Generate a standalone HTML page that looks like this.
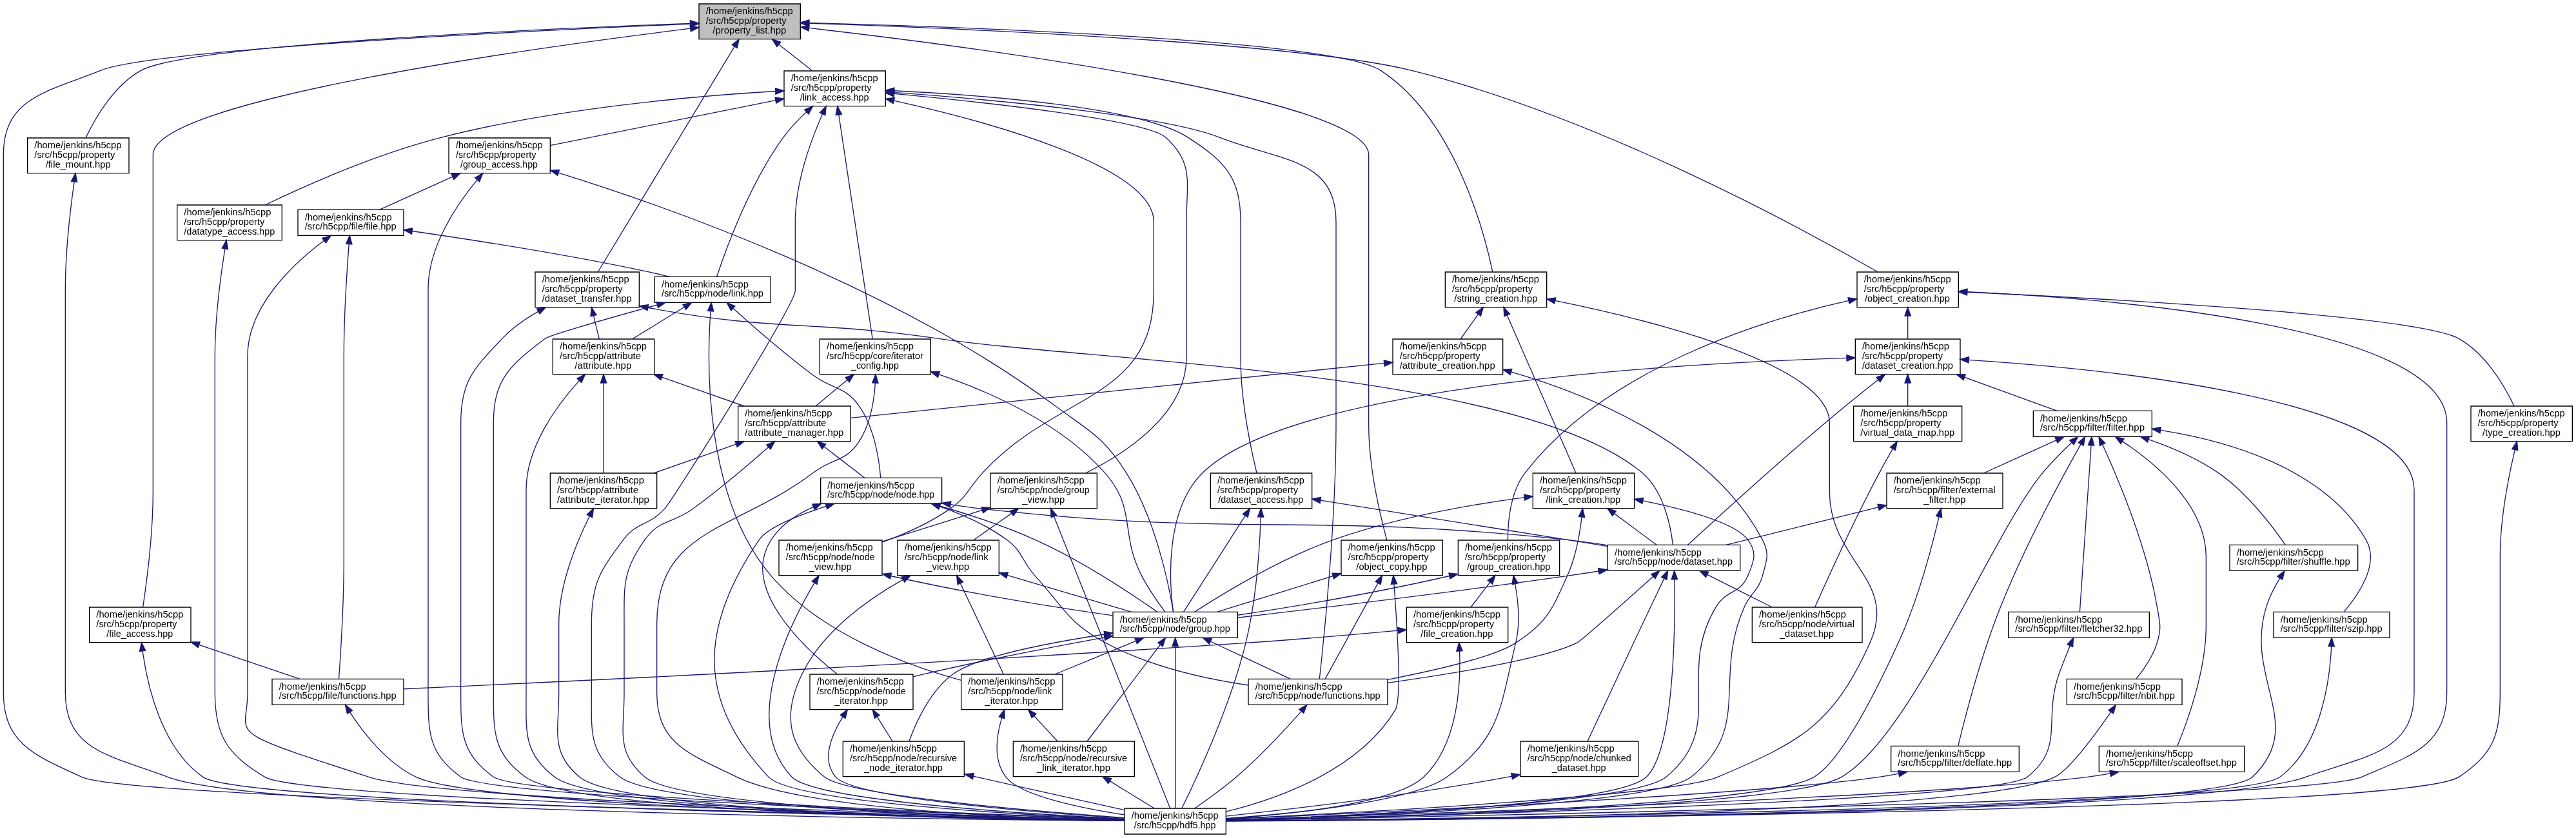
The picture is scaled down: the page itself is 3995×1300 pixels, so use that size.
<!DOCTYPE html>
<html><head><meta charset="utf-8"><title>property_list.hpp included-by graph</title>
<style>
html,body{margin:0;padding:0;background:#fff;}
body{width:3995px;height:1300px;overflow:hidden;font-family:"Liberation Sans",sans-serif;}
svg{display:block;will-change:transform;}
</style></head><body>
<svg width="3995" height="1300" viewBox="0 0 2996.25 975">
<rect x="0" y="0" width="2996.25" height="975" fill="#ffffff"/>
<g transform="translate(4 971)" font-family="Liberation Sans, sans-serif" font-size="10.4" fill="#000000">
<polygon fill="#bfbfbf" stroke="#000000" points="809,-925.5 809,-966.5 927,-966.5 927,-925.5 809,-925.5"/>
<text x="817" y="-954.3" textLength="101.25" lengthAdjust="spacingAndGlyphs">/home/jenkins/h5cpp</text>
<text x="817" y="-943.3" textLength="93.75" lengthAdjust="spacingAndGlyphs">/src/h5cpp/property</text>
<text x="825" y="-932.3" textLength="85.5" lengthAdjust="spacingAndGlyphs">/property_list.hpp</text>
<polygon fill="#ffffff" stroke="#000000" points="1304,-0.5 1304,-30.5 1422,-30.5 1422,-0.5 1304,-0.5"/>
<text x="1312" y="-18.3" textLength="101.25" lengthAdjust="spacingAndGlyphs">/home/jenkins/h5cpp</text>
<text x="1315" y="-7.3" textLength="95.25" lengthAdjust="spacingAndGlyphs">/src/h5cpp/hdf5.hpp</text>
<path fill="none" stroke="#191970" d="M799.01,-943.18C624.64,-935.71 175.65,-914.27 113,-889 51.35,-864.14 0,-857.48 0,-791 0,-791 0,-791 0,-165 0,-105.56 37,-91.83 91,-67 146.67,-41.4 1060.86,-21.5 1304,-16.64"/>
<polygon fill="#191970" stroke="#191970" points="799.16,-939.68 809,-943.61 798.86,-946.68 799.16,-939.68"/>
<polygon fill="#ffffff" stroke="#000000" points="618.5,-613.5 618.5,-654.5 739.5,-654.5 739.5,-613.5 618.5,-613.5"/>
<text x="626.5" y="-642.3" textLength="101.25" lengthAdjust="spacingAndGlyphs">/home/jenkins/h5cpp</text>
<text x="626.5" y="-631.3" textLength="93.75" lengthAdjust="spacingAndGlyphs">/src/h5cpp/property</text>
<text x="626.5" y="-620.3" textLength="104.25" lengthAdjust="spacingAndGlyphs">/dataset_transfer.hpp</text>
<path fill="none" stroke="#191970" d="M850.4,-916.95C812.53,-854.43 724.09,-708.44 691.42,-654.5"/>
<polygon fill="#191970" stroke="#191970" points="853.39,-915.13 855.58,-925.5 847.41,-918.76 853.39,-915.13"/>
<polygon fill="#ffffff" stroke="#000000" points="100,-223.5 100,-264.5 218,-264.5 218,-223.5 100,-223.5"/>
<text x="108" y="-252.3" textLength="101.25" lengthAdjust="spacingAndGlyphs">/home/jenkins/h5cpp</text>
<text x="108" y="-241.3" textLength="93.75" lengthAdjust="spacingAndGlyphs">/src/h5cpp/property</text>
<text x="120" y="-230.3" textLength="77.25" lengthAdjust="spacingAndGlyphs">/file_access.hpp</text>
<path fill="none" stroke="#191970" d="M799.07,-937.86C623.64,-916.23 174,-854.58 174,-791 174,-791 174,-791 174,-399 174,-350.87 166.65,-294.19 162.24,-264.5"/>
<polygon fill="#191970" stroke="#191970" points="799.5,-934.39 809,-939.08 798.65,-941.34 799.5,-934.39"/>
<polygon fill="#ffffff" stroke="#000000" points="28,-769.5 28,-810.5 146,-810.5 146,-769.5 28,-769.5"/>
<text x="36" y="-798.3" textLength="101.25" lengthAdjust="spacingAndGlyphs">/home/jenkins/h5cpp</text>
<text x="36" y="-787.3" textLength="93.75" lengthAdjust="spacingAndGlyphs">/src/h5cpp/property</text>
<text x="49" y="-776.3" textLength="75.75" lengthAdjust="spacingAndGlyphs">/file_mount.hpp</text>
<path fill="none" stroke="#191970" d="M799.01,-943.66C631.88,-937.55 215.03,-919.41 160,-889 128.6,-871.65 106.84,-834.05 95.68,-810.5"/>
<polygon fill="#191970" stroke="#191970" points="799.13,-940.17 809,-944.03 798.88,-947.16 799.13,-940.17"/>
<polygon fill="#ffffff" stroke="#000000" points="908,-847.5 908,-888.5 1026,-888.5 1026,-847.5 908,-847.5"/>
<text x="916" y="-876.3" textLength="101.25" lengthAdjust="spacingAndGlyphs">/home/jenkins/h5cpp</text>
<text x="916" y="-865.3" textLength="93.75" lengthAdjust="spacingAndGlyphs">/src/h5cpp/property</text>
<text x="926.5" y="-854.3" textLength="80.25" lengthAdjust="spacingAndGlyphs">/link_access.hpp</text>
<path fill="none" stroke="#191970" d="M901.87,-919.31C914.67,-909.23 929.02,-897.93 940.98,-888.5"/>
<polygon fill="#191970" stroke="#191970" points="904.04,-922.06 894.02,-925.5 899.71,-916.56 904.04,-922.06"/>
<polygon fill="#ffffff" stroke="#000000" points="1556,-301.5 1556,-342.5 1674,-342.5 1674,-301.5 1556,-301.5"/>
<text x="1564" y="-330.3" textLength="101.25" lengthAdjust="spacingAndGlyphs">/home/jenkins/h5cpp</text>
<text x="1564" y="-319.3" textLength="93.75" lengthAdjust="spacingAndGlyphs">/src/h5cpp/property</text>
<text x="1573.5" y="-308.3" textLength="82.5" lengthAdjust="spacingAndGlyphs">/object_copy.hpp</text>
<path fill="none" stroke="#191970" d="M936.94,-938.42C1117.07,-917.69 1588,-857.16 1588,-791 1588,-791 1588,-791 1588,-477 1588,-428.45 1601.18,-372.06 1609.13,-342.5"/>
<polygon fill="#191970" stroke="#191970" points="937.33,-941.9 927,-939.56 936.54,-934.94 937.33,-941.9"/>
<polygon fill="#ffffff" stroke="#000000" points="2156,-613.5 2156,-654.5 2274,-654.5 2274,-613.5 2156,-613.5"/>
<text x="2164" y="-642.3" textLength="101.25" lengthAdjust="spacingAndGlyphs">/home/jenkins/h5cpp</text>
<text x="2164" y="-631.3" textLength="93.75" lengthAdjust="spacingAndGlyphs">/src/h5cpp/property</text>
<text x="2165" y="-620.3" textLength="99" lengthAdjust="spacingAndGlyphs">/object_creation.hpp</text>
<path fill="none" stroke="#191970" d="M936.99,-943.88C1100.2,-938.39 1506.14,-921.78 1638,-889 1854.86,-835.1 2092.81,-704.98 2180.28,-654.5"/>
<polygon fill="#191970" stroke="#191970" points="937.11,-947.38 927,-944.21 936.88,-940.38 937.11,-947.38"/>
<polygon fill="#ffffff" stroke="#000000" points="1677,-613.5 1677,-654.5 1795,-654.5 1795,-613.5 1677,-613.5"/>
<text x="1685" y="-642.3" textLength="101.25" lengthAdjust="spacingAndGlyphs">/home/jenkins/h5cpp</text>
<text x="1685" y="-631.3" textLength="93.75" lengthAdjust="spacingAndGlyphs">/src/h5cpp/property</text>
<text x="1687.5" y="-620.3" textLength="96.75" lengthAdjust="spacingAndGlyphs">/string_creation.hpp</text>
<path fill="none" stroke="#191970" d="M937,-944.4C1109.05,-939.88 1547.21,-924.95 1602,-889 1686.97,-833.24 1721.58,-704.6 1732.16,-654.5"/>
<polygon fill="#191970" stroke="#191970" points="937.09,-947.9 927,-944.66 936.91,-940.9 937.09,-947.9"/>
<path fill="none" stroke="#191970" d="M622.12,-608.71C607.1,-600.15 591.81,-589.53 580,-577 546.74,-541.7 532,-527.5 532,-479 532,-479 532,-479 532,-165 532,-118.28 532.31,-94.61 570,-67 599.53,-45.37 1125.17,-24.21 1304,-17.6"/>
<polygon fill="#191970" stroke="#191970" points="623.79,-605.63 630.89,-613.5 620.44,-611.78 623.79,-605.63"/>
<polygon fill="#ffffff" stroke="#000000" points="639,-535.5 639,-576.5 757,-576.5 757,-535.5 639,-535.5"/>
<text x="647" y="-564.3" textLength="101.25" lengthAdjust="spacingAndGlyphs">/home/jenkins/h5cpp</text>
<text x="647" y="-553.3" textLength="94.5" lengthAdjust="spacingAndGlyphs">/src/h5cpp/attribute</text>
<text x="664.5" y="-542.3" textLength="66" lengthAdjust="spacingAndGlyphs">/attribute.hpp</text>
<path fill="none" stroke="#191970" d="M686.36,-603.78C688.58,-594.65 690.97,-584.84 693.01,-576.5"/>
<polygon fill="#191970" stroke="#191970" points="689.76,-604.61 683.99,-613.5 682.96,-602.96 689.76,-604.61"/>
<polygon fill="#ffffff" stroke="#000000" points="1866,-307 1866,-337 2020,-337 2020,-307 1866,-307"/>
<text x="1874" y="-324.8" textLength="101.25" lengthAdjust="spacingAndGlyphs">/home/jenkins/h5cpp</text>
<text x="1874" y="-313.8" textLength="137.25" lengthAdjust="spacingAndGlyphs">/src/h5cpp/node/dataset.hpp</text>
<path fill="none" stroke="#191970" d="M749.59,-613.08C899.51,-584.71 941.34,-598.73 1088,-577 1271.05,-549.87 1764.36,-540.09 1906,-421 1931.22,-399.79 1939.27,-359.03 1941.83,-337"/>
<polygon fill="#191970" stroke="#191970" points="750.25,-616.52 739.55,-615.01 748.93,-609.64 750.25,-616.52"/>
<path fill="none" stroke="#191970" d="M669.81,-528.18C643.41,-499.07 608,-450.74 608,-401 608,-401 608,-401 608,-165 608,-119.04 604.63,-95.1 641,-67 692.93,-26.87 1140.97,-17.94 1304,-16.01"/>
<polygon fill="#191970" stroke="#191970" points="672.37,-525.8 676.63,-535.5 667.25,-530.57 672.37,-525.8"/>
<polygon fill="#ffffff" stroke="#000000" points="636,-379.5 636,-420.5 760,-420.5 760,-379.5 636,-379.5"/>
<text x="644" y="-408.3" textLength="101.25" lengthAdjust="spacingAndGlyphs">/home/jenkins/h5cpp</text>
<text x="644" y="-397.3" textLength="94.5" lengthAdjust="spacingAndGlyphs">/src/h5cpp/attribute</text>
<text x="644" y="-386.3" textLength="107.25" lengthAdjust="spacingAndGlyphs">/attribute_iterator.hpp</text>
<path fill="none" stroke="#191970" d="M698,-525.5C698,-494.49 698,-447.31 698,-420.5"/>
<polygon fill="#191970" stroke="#191970" points="701.5,-525.5 698,-535.5 694.5,-525.5 701.5,-525.5"/>
<polygon fill="#ffffff" stroke="#000000" points="854.5,-457.5 854.5,-498.5 985.5,-498.5 985.5,-457.5 854.5,-457.5"/>
<text x="862.5" y="-486.3" textLength="101.25" lengthAdjust="spacingAndGlyphs">/home/jenkins/h5cpp</text>
<text x="862.5" y="-475.3" textLength="94.5" lengthAdjust="spacingAndGlyphs">/src/h5cpp/attribute</text>
<text x="862.5" y="-464.3" textLength="114.75" lengthAdjust="spacingAndGlyphs">/attribute_manager.hpp</text>
<path fill="none" stroke="#191970" d="M765.78,-532.19C796.41,-521.42 832.24,-508.83 861.65,-498.5"/>
<polygon fill="#191970" stroke="#191970" points="766.94,-535.49 756.35,-535.5 764.62,-528.88 766.94,-535.49"/>
<path fill="none" stroke="#191970" d="M681.85,-370.6C666.58,-340.05 646,-290.44 646,-245 646,-245 646,-245 646,-165 646,-120.16 635.75,-95.95 670,-67 717.9,-26.51 1145.28,-17.82 1304,-15.98"/>
<polygon fill="#191970" stroke="#191970" points="684.96,-369.01 686.41,-379.5 678.73,-372.2 684.96,-369.01"/>
<path fill="none" stroke="#191970" d="M889.91,-450.87C866.54,-430.26 832.99,-401.7 802,-379 778.13,-361.52 763.19,-367.08 746,-343 719.95,-306.5 722,-289.84 722,-245 722,-245 722,-245 722,-165 722,-120.16 711.88,-96.1 746,-67 787.88,-31.28 1157.87,-19.75 1304,-16.57"/>
<polygon fill="#191970" stroke="#191970" points="892.23,-448.25 897.39,-457.5 887.59,-453.49 892.23,-448.25"/>
<path fill="none" stroke="#191970" d="M852.22,-454.19C821.59,-443.42 785.76,-430.83 756.35,-420.5"/>
<polygon fill="#191970" stroke="#191970" points="853.38,-450.88 861.65,-457.5 851.06,-457.49 853.38,-450.88"/>
<polygon fill="#ffffff" stroke="#000000" points="950.5,-385 950.5,-415 1091.5,-415 1091.5,-385 950.5,-385"/>
<text x="958.5" y="-402.8" textLength="101.25" lengthAdjust="spacingAndGlyphs">/home/jenkins/h5cpp</text>
<text x="958.5" y="-391.8" textLength="124.5" lengthAdjust="spacingAndGlyphs">/src/h5cpp/node/node.hpp</text>
<path fill="none" stroke="#191970" d="M954.46,-451.39C970.19,-439.24 988.25,-425.29 1001.58,-415"/>
<polygon fill="#191970" stroke="#191970" points="956.6,-454.16 946.54,-457.5 952.32,-448.62 956.6,-454.16"/>
<path fill="none" stroke="#191970" d="M957.04,-381.98C923.96,-371.24 888.53,-357 879,-343 809.93,-241.51 805.62,-156.17 890,-67 917.99,-37.43 1183.48,-22.86 1304,-17.72"/>
<polygon fill="#191970" stroke="#191970" points="958.09,-378.64 966.57,-385 955.98,-385.31 958.09,-378.64"/>
<path fill="none" stroke="#191970" d="M1101.58,-384.08C1114.07,-382.13 1126.86,-380.35 1139,-379 1439.8,-345.66 1518.07,-375.14 1819,-343 1834.24,-341.37 1850.47,-339.05 1866,-336.55"/>
<polygon fill="#191970" stroke="#191970" points="1102.13,-387.54 1091.64,-385.67 1101.03,-380.62 1102.13,-387.54"/>
<polygon fill="#ffffff" stroke="#000000" points="1448,-151 1448,-181 1610,-181 1610,-151 1448,-151"/>
<text x="1456" y="-168.8" textLength="101.25" lengthAdjust="spacingAndGlyphs">/home/jenkins/h5cpp</text>
<text x="1456" y="-157.8" textLength="145.5" lengthAdjust="spacingAndGlyphs">/src/h5cpp/node/functions.hpp</text>
<path fill="none" stroke="#191970" d="M1088.76,-381.83C1114.82,-372.8 1143.84,-360.09 1167,-343 1186.1,-328.91 1184.02,-318.56 1200,-301 1233.85,-263.79 1237.66,-246.75 1282,-223 1333.41,-195.46 1397.84,-181.16 1448,-173.77"/>
<polygon fill="#191970" stroke="#191970" points="1089.87,-385.15 1079.27,-385 1087.65,-378.51 1089.87,-385.15"/>
<polygon fill="#ffffff" stroke="#000000" points="1290.5,-229 1290.5,-259 1435.5,-259 1435.5,-229 1290.5,-229"/>
<text x="1298.5" y="-246.8" textLength="101.25" lengthAdjust="spacingAndGlyphs">/home/jenkins/h5cpp</text>
<text x="1298.5" y="-235.8" textLength="128.25" lengthAdjust="spacingAndGlyphs">/src/h5cpp/node/group.hpp</text>
<path fill="none" stroke="#191970" d="M1089.15,-382.26C1123.17,-372.41 1164.53,-358.94 1200,-343 1253.84,-318.81 1311.95,-280.14 1342.13,-259"/>
<polygon fill="#191970" stroke="#191970" points="1090.11,-385.62 1079.53,-385 1088.19,-378.89 1090.11,-385.62"/>
<polygon fill="#ffffff" stroke="#000000" points="938,-145.5 938,-186.5 1058,-186.5 1058,-145.5 938,-145.5"/>
<text x="946" y="-174.3" textLength="101.25" lengthAdjust="spacingAndGlyphs">/home/jenkins/h5cpp</text>
<text x="946" y="-163.3" textLength="103.5" lengthAdjust="spacingAndGlyphs">/src/h5cpp/node/node</text>
<text x="966.5" y="-152.3" textLength="62.25" lengthAdjust="spacingAndGlyphs">_iterator.hpp</text>
<path fill="none" stroke="#191970" d="M942.13,-381.23C922.85,-372.77 904.48,-360.57 893,-343 856.95,-287.88 927.97,-219.9 970.04,-186.5"/>
<polygon fill="#191970" stroke="#191970" points="943.45,-377.99 951.39,-385 940.81,-384.48 943.45,-377.99"/>
<path fill="none" stroke="#191970" d="M1943.64,-297C1944.54,-239.07 1943.29,-98.22 1911,-67 1876.38,-33.52 1556.39,-20.83 1422,-16.95"/>
<polygon fill="#191970" stroke="#191970" points="1947.13,-297.07 1943.44,-307 1940.14,-296.93 1947.13,-297.07"/>
<polygon fill="#ffffff" stroke="#000000" points="1764.5,-67.5 1764.5,-108.5 1901.5,-108.5 1901.5,-67.5 1764.5,-67.5"/>
<text x="1772.5" y="-96.3" textLength="101.25" lengthAdjust="spacingAndGlyphs">/home/jenkins/h5cpp</text>
<text x="1772.5" y="-85.3" textLength="120.75" lengthAdjust="spacingAndGlyphs">/src/h5cpp/node/chunked</text>
<text x="1801" y="-74.3" textLength="63" lengthAdjust="spacingAndGlyphs">_dataset.hpp</text>
<path fill="none" stroke="#191970" d="M1931.65,-297.96C1926.8,-287.72 1921.1,-275.7 1916,-265 1889.16,-208.72 1857.87,-141.58 1842.51,-108.5"/>
<polygon fill="#191970" stroke="#191970" points="1934.81,-296.46 1935.92,-307 1928.48,-299.46 1934.81,-296.46"/>
<path fill="none" stroke="#191970" d="M1918.91,-300.32C1887.3,-271.95 1835.2,-225.52 1830,-223 1792.06,-204.61 1685.53,-187.12 1610,-176.48"/>
<polygon fill="#191970" stroke="#191970" points="1921.25,-297.71 1926.35,-307 1916.57,-302.92 1921.25,-297.71"/>
<path fill="none" stroke="#191970" d="M1855.46,-306.46C1843.23,-304.55 1830.81,-302.68 1819,-301 1683.82,-281.81 1525.55,-262.8 1435.5,-252.31"/>
<polygon fill="#191970" stroke="#191970" points="1856,-303 1865.68,-308.07 1854.92,-309.92 1856,-303"/>
<polygon fill="#ffffff" stroke="#000000" points="2034,-223.5 2034,-264.5 2162,-264.5 2162,-223.5 2034,-223.5"/>
<text x="2042" y="-252.3" textLength="101.25" lengthAdjust="spacingAndGlyphs">/home/jenkins/h5cpp</text>
<text x="2042" y="-241.3" textLength="111" lengthAdjust="spacingAndGlyphs">/src/h5cpp/node/virtual</text>
<text x="2066" y="-230.3" textLength="63" lengthAdjust="spacingAndGlyphs">_dataset.hpp</text>
<path fill="none" stroke="#191970" d="M1981.74,-302.5C2004.75,-290.92 2033.91,-276.25 2057.26,-264.5"/>
<polygon fill="#191970" stroke="#191970" points="1983.31,-305.63 1972.81,-307 1980.17,-299.38 1983.31,-305.63"/>
<path fill="none" stroke="#191970" d="M1754.41,-67.84C1752.93,-67.55 1751.46,-67.27 1750,-67 1634.58,-45.63 1498.15,-29.6 1422,-21.47"/>
<polygon fill="#191970" stroke="#191970" points="1755.11,-64.41 1764.28,-69.84 1753.71,-71.27 1755.11,-64.41"/>
<path fill="none" stroke="#191970" d="M1509.65,-143.48C1491.16,-122.55 1462.04,-91.08 1434,-67 1418.65,-53.82 1399.96,-40.36 1385.61,-30.5"/>
<polygon fill="#191970" stroke="#191970" points="1512.28,-141.17 1516.24,-151 1507.02,-145.78 1512.28,-141.17"/>
<path fill="none" stroke="#191970" d="M1363,-219C1363,-171.37 1363,-68.96 1363,-30.5"/>
<polygon fill="#191970" stroke="#191970" points="1366.5,-219 1363,-229 1359.5,-219 1366.5,-219"/>
<path fill="none" stroke="#191970" d="M1403.97,-224.75C1432.71,-211.24 1470.58,-193.45 1497.08,-181"/>
<polygon fill="#191970" stroke="#191970" points="1405.46,-227.92 1394.92,-229 1402.49,-221.58 1405.46,-227.92"/>
<polygon fill="#ffffff" stroke="#000000" points="1114,-145.5 1114,-186.5 1232,-186.5 1232,-145.5 1114,-145.5"/>
<text x="1122" y="-174.3" textLength="101.25" lengthAdjust="spacingAndGlyphs">/home/jenkins/h5cpp</text>
<text x="1122" y="-163.3" textLength="97.5" lengthAdjust="spacingAndGlyphs">/src/h5cpp/node/link</text>
<text x="1141.5" y="-152.3" textLength="62.25" lengthAdjust="spacingAndGlyphs">_iterator.hpp</text>
<path fill="none" stroke="#191970" d="M1317.21,-225.2C1288.75,-213.52 1252.14,-198.49 1222.94,-186.5"/>
<polygon fill="#191970" stroke="#191970" points="1318.54,-221.96 1326.46,-229 1315.88,-228.44 1318.54,-221.96"/>
<polygon fill="#ffffff" stroke="#000000" points="1174.5,-67.5 1174.5,-108.5 1315.5,-108.5 1315.5,-67.5 1174.5,-67.5"/>
<text x="1182.5" y="-96.3" textLength="101.25" lengthAdjust="spacingAndGlyphs">/home/jenkins/h5cpp</text>
<text x="1182.5" y="-85.3" textLength="124.5" lengthAdjust="spacingAndGlyphs">/src/h5cpp/node/recursive</text>
<text x="1202" y="-74.3" textLength="85.5" lengthAdjust="spacingAndGlyphs">_link_iterator.hpp</text>
<path fill="none" stroke="#191970" d="M1345.62,-221.02C1322.64,-190.65 1282.5,-137.58 1260.51,-108.5"/>
<polygon fill="#191970" stroke="#191970" points="1348.41,-218.91 1351.65,-229 1342.83,-223.14 1348.41,-218.91"/>
<path fill="none" stroke="#191970" d="M1280.66,-229.4C1222.2,-218.66 1141.98,-203.17 1072,-187 1067.46,-185.95 1062.78,-184.82 1058.08,-183.64"/>
<polygon fill="#191970" stroke="#191970" points="1281.29,-225.96 1290.5,-231.2 1280.03,-232.84 1281.29,-225.96"/>
<polygon fill="#ffffff" stroke="#000000" points="976.5,-67.5 976.5,-108.5 1117.5,-108.5 1117.5,-67.5 976.5,-67.5"/>
<text x="984.5" y="-96.3" textLength="101.25" lengthAdjust="spacingAndGlyphs">/home/jenkins/h5cpp</text>
<text x="984.5" y="-85.3" textLength="124.5" lengthAdjust="spacingAndGlyphs">/src/h5cpp/node/recursive</text>
<text x="1001" y="-74.3" textLength="91.5" lengthAdjust="spacingAndGlyphs">_node_iterator.hpp</text>
<path fill="none" stroke="#191970" d="M1280.61,-233.02C1216.1,-223.12 1132.78,-207.05 1105,-187 1078.2,-167.66 1061.67,-131.36 1053.42,-108.5"/>
<polygon fill="#191970" stroke="#191970" points="1281.13,-229.56 1290.5,-234.51 1280.09,-236.48 1281.13,-229.56"/>
<path fill="none" stroke="#191970" d="M1161.24,-135.99C1154.93,-114.52 1151.14,-86.14 1166,-67 1182.88,-45.24 1252.31,-30.88 1304,-22.98"/>
<polygon fill="#191970" stroke="#191970" points="1164.57,-134.91 1164.33,-145.5 1157.91,-137.07 1164.57,-134.91"/>
<path fill="none" stroke="#191970" d="M1198.71,-138.15C1207.73,-128.37 1217.71,-117.57 1226.08,-108.5"/>
<polygon fill="#191970" stroke="#191970" points="1201.28,-140.53 1191.92,-145.5 1196.13,-135.78 1201.28,-140.53"/>
<path fill="none" stroke="#191970" d="M1286.89,-62.27C1304.2,-51.63 1323.67,-39.66 1338.59,-30.5"/>
<polygon fill="#191970" stroke="#191970" points="1288.72,-65.25 1278.37,-67.5 1285.05,-59.28 1288.72,-65.25"/>
<path fill="none" stroke="#191970" d="M976.31,-137.15C962.81,-115.49 950.97,-86.35 968,-67 989.83,-42.2 1199.28,-25.72 1304,-18.97"/>
<polygon fill="#191970" stroke="#191970" points="979.23,-135.23 981.81,-145.5 973.39,-139.08 979.23,-135.23"/>
<path fill="none" stroke="#191970" d="M1016.2,-137.03C1022.15,-127.55 1028.64,-117.22 1034.12,-108.5"/>
<polygon fill="#191970" stroke="#191970" points="1019.16,-138.89 1010.88,-145.5 1013.23,-135.17 1019.16,-138.89"/>
<path fill="none" stroke="#191970" d="M1128.1,-67.89C1129.41,-67.59 1130.71,-67.29 1132,-67 1190.41,-53.74 1257.29,-38.87 1304,-28.52"/>
<polygon fill="#191970" stroke="#191970" points="1128.88,-71.3 1117.94,-70.22 1127.32,-64.48 1128.88,-71.3"/>
<path fill="none" stroke="#191970" d="M161.85,-213.58C167.47,-172.51 184,-100.63 232,-67 276.21,-36.02 1077.78,-20.28 1304,-16.44"/>
<polygon fill="#191970" stroke="#191970" points="165.32,-214.01 160.62,-223.5 158.37,-213.15 165.32,-214.01"/>
<polygon fill="#ffffff" stroke="#000000" points="312.5,-151 312.5,-181 465.5,-181 465.5,-151 312.5,-151"/>
<text x="320.5" y="-168.8" textLength="101.25" lengthAdjust="spacingAndGlyphs">/home/jenkins/h5cpp</text>
<text x="320.5" y="-157.8" textLength="136.5" lengthAdjust="spacingAndGlyphs">/src/h5cpp/file/functions.hpp</text>
<path fill="none" stroke="#191970" d="M227.47,-220.78C265.44,-207.9 311.55,-192.27 344.77,-181"/>
<polygon fill="#191970" stroke="#191970" points="228.59,-224.09 218,-223.99 226.35,-217.47 228.59,-224.09"/>
<path fill="none" stroke="#191970" d="M402.84,-142.54C418.34,-118.7 445.84,-83.07 480,-67 554.14,-32.12 1118.37,-19.6 1304,-16.41"/>
<polygon fill="#191970" stroke="#191970" points="405.8,-144.4 397.51,-151 399.88,-140.67 405.8,-144.4"/>
<path fill="none" stroke="#191970" d="M82.33,-759.6C77.92,-728.33 72,-678.21 72,-635 72,-635 72,-635 72,-165 72,-96.48 127.02,-91.52 191,-67 295.25,-27.05 1080.77,-17.75 1304,-15.91"/>
<polygon fill="#191970" stroke="#191970" points="85.79,-759.1 83.76,-769.5 78.86,-760.1 85.79,-759.1"/>
<path fill="none" stroke="#191970" d="M952.71,-838.39C939.2,-807.67 921,-757.94 921,-713 921,-713 921,-713 921,-633 921,-616.56 780.01,-391.22 769,-379 751.15,-359.19 737.01,-364.32 721,-343 693.04,-305.77 684,-291.56 684,-245 684,-245 684,-245 684,-165 684,-119.04 680.75,-95.25 717,-67 762.71,-31.38 1153.28,-19.74 1304,-16.55"/>
<polygon fill="#191970" stroke="#191970" points="955.9,-836.95 956.82,-847.5 949.52,-839.83 955.9,-836.95"/>
<path fill="none" stroke="#191970" d="M1035.97,-863.41C1143.97,-855.51 1347.62,-837.61 1415,-811 1483.96,-783.77 1550,-787.14 1550,-713 1550,-713 1550,-713 1550,-477 1550,-363.27 1535.76,-225.92 1530.73,-181"/>
<polygon fill="#191970" stroke="#191970" points="1036.23,-866.9 1026,-864.13 1035.72,-859.91 1036.23,-866.9"/>
<polygon fill="#ffffff" stroke="#000000" points="949.5,-535.5 949.5,-576.5 1078.5,-576.5 1078.5,-535.5 949.5,-535.5"/>
<text x="957.5" y="-564.3" textLength="101.25" lengthAdjust="spacingAndGlyphs">/home/jenkins/h5cpp</text>
<text x="957.5" y="-553.3" textLength="112.5" lengthAdjust="spacingAndGlyphs">/src/h5cpp/core/iterator</text>
<text x="986" y="-542.3" textLength="55.5" lengthAdjust="spacingAndGlyphs">_config.hpp</text>
<path fill="none" stroke="#191970" d="M971.58,-837.61C981.1,-774.37 1002.84,-630.05 1010.91,-576.5"/>
<polygon fill="#191970" stroke="#191970" points="975.04,-838.13 970.09,-847.5 968.12,-837.09 975.04,-838.13"/>
<polygon fill="#ffffff" stroke="#000000" points="1148,-379.5 1148,-420.5 1272,-420.5 1272,-379.5 1148,-379.5"/>
<text x="1156" y="-408.3" textLength="101.25" lengthAdjust="spacingAndGlyphs">/home/jenkins/h5cpp</text>
<text x="1156" y="-397.3" textLength="107.25" lengthAdjust="spacingAndGlyphs">/src/h5cpp/node/group</text>
<text x="1185" y="-386.3" textLength="49.5" lengthAdjust="spacingAndGlyphs">_view.hpp</text>
<path fill="none" stroke="#191970" d="M1035.96,-861.95C1140.39,-852.18 1329.02,-831.88 1352,-811 1385.19,-780.84 1376,-757.84 1376,-713 1376,-713 1376,-713 1376,-555 1376,-490.36 1307.53,-444.81 1258.53,-420.5"/>
<polygon fill="#191970" stroke="#191970" points="1036.28,-865.44 1026,-862.87 1035.63,-858.47 1036.28,-865.44"/>
<polygon fill="#ffffff" stroke="#000000" points="902,-301.5 902,-342.5 1022,-342.5 1022,-301.5 902,-301.5"/>
<text x="910" y="-330.3" textLength="101.25" lengthAdjust="spacingAndGlyphs">/home/jenkins/h5cpp</text>
<text x="910" y="-319.3" textLength="103.5" lengthAdjust="spacingAndGlyphs">/src/h5cpp/node/node</text>
<text x="937" y="-308.3" textLength="49.5" lengthAdjust="spacingAndGlyphs">_view.hpp</text>
<path fill="none" stroke="#191970" d="M1035.77,-853.96C1143.03,-830.06 1338,-777.71 1338,-713 1338,-713 1338,-713 1338,-633 1338,-503.77 1226.58,-516.03 1139,-421 1121.94,-402.49 1121.64,-393.4 1101,-379 1077.18,-362.38 1047.68,-349.41 1022,-340.07"/>
<polygon fill="#191970" stroke="#191970" points="1036.52,-857.38 1026,-856.11 1035.01,-850.54 1036.52,-857.38"/>
<polygon fill="#ffffff" stroke="#000000" points="757.5,-619 757.5,-649 892.5,-649 892.5,-619 757.5,-619"/>
<text x="765.5" y="-636.8" textLength="101.25" lengthAdjust="spacingAndGlyphs">/home/jenkins/h5cpp</text>
<text x="765.5" y="-625.8" textLength="118.5" lengthAdjust="spacingAndGlyphs">/src/h5cpp/node/link.hpp</text>
<path fill="none" stroke="#191970" d="M934.09,-840.79C924.56,-831.9 914.68,-821.57 907,-811 867.86,-757.09 840.28,-680.93 829.74,-649"/>
<polygon fill="#191970" stroke="#191970" points="936.44,-838.19 941.51,-847.5 931.74,-843.38 936.44,-838.19"/>
<polygon fill="#ffffff" stroke="#000000" points="1404,-379.5 1404,-420.5 1522,-420.5 1522,-379.5 1404,-379.5"/>
<text x="1412" y="-408.3" textLength="101.25" lengthAdjust="spacingAndGlyphs">/home/jenkins/h5cpp</text>
<text x="1412" y="-397.3" textLength="93.75" lengthAdjust="spacingAndGlyphs">/src/h5cpp/property</text>
<text x="1413" y="-386.3" textLength="99" lengthAdjust="spacingAndGlyphs">/dataset_access.hpp</text>
<path fill="none" stroke="#191970" d="M1035.99,-865.41C1137.99,-860.44 1322.93,-846.67 1378,-811 1421.06,-783.11 1439,-764.3 1439,-713 1439,-713 1439,-713 1439,-555 1439,-506.56 1450.73,-450.1 1457.79,-420.5"/>
<polygon fill="#191970" stroke="#191970" points="1036.15,-868.91 1026,-865.89 1035.82,-861.92 1036.15,-868.91"/>
<polygon fill="#ffffff" stroke="#000000" points="202,-691.5 202,-732.5 324,-732.5 324,-691.5 202,-691.5"/>
<text x="210" y="-720.3" textLength="101.25" lengthAdjust="spacingAndGlyphs">/home/jenkins/h5cpp</text>
<text x="210" y="-709.3" textLength="93.75" lengthAdjust="spacingAndGlyphs">/src/h5cpp/property</text>
<text x="210" y="-698.3" textLength="105.75" lengthAdjust="spacingAndGlyphs">/datatype_access.hpp</text>
<path fill="none" stroke="#191970" d="M898.02,-864.85C807.48,-859.49 644.2,-845.57 509,-811 434.43,-791.93 352.17,-755.45 304.18,-732.5"/>
<polygon fill="#191970" stroke="#191970" points="898.22,-861.36 908,-865.42 897.82,-868.34 898.22,-861.36"/>
<polygon fill="#ffffff" stroke="#000000" points="518,-769.5 518,-810.5 636,-810.5 636,-769.5 518,-769.5"/>
<text x="526" y="-798.3" textLength="101.25" lengthAdjust="spacingAndGlyphs">/home/jenkins/h5cpp</text>
<text x="526" y="-787.3" textLength="93.75" lengthAdjust="spacingAndGlyphs">/src/h5cpp/property</text>
<text x="531.5" y="-776.3" textLength="90" lengthAdjust="spacingAndGlyphs">/group_access.hpp</text>
<path fill="none" stroke="#191970" d="M898.19,-854.24C823.77,-839.35 706.36,-815.87 636,-801.8"/>
<polygon fill="#191970" stroke="#191970" points="898.88,-850.81 908,-856.2 897.51,-857.67 898.88,-850.81"/>
<path fill="none" stroke="#191970" d="M1014.04,-525.51C1012.73,-504.61 1008.27,-477.14 995,-457 979.33,-433.23 964.67,-438.23 942,-421 852.42,-352.91 760,-357.52 760,-245 760,-245 760,-245 760,-165 760,-104.95 799.07,-93.4 853,-67 931.1,-28.78 1187.21,-18.9 1304,-16.37"/>
<polygon fill="#191970" stroke="#191970" points="1017.53,-525.36 1014.46,-535.5 1010.54,-525.66 1017.53,-525.36"/>
<path fill="none" stroke="#191970" d="M981.6,-529.11C969.51,-519.08 955.99,-507.87 944.71,-498.5"/>
<polygon fill="#191970" stroke="#191970" points="983.83,-526.42 989.29,-535.5 979.36,-531.81 983.83,-526.42"/>
<path fill="none" stroke="#191970" d="M1087.99,-535.31C1147.63,-515.13 1229.73,-478.88 1281,-421 1318.56,-378.59 1298.03,-351.35 1324,-301 1331.69,-286.08 1342.83,-270.2 1351.24,-259"/>
<polygon fill="#191970" stroke="#191970" points="1089.09,-538.64 1078.5,-538.46 1086.89,-531.99 1089.09,-538.64"/>
<path fill="none" stroke="#191970" d="M1221.85,-370.21C1252.63,-292.86 1334.27,-87.71 1357.03,-30.5"/>
<polygon fill="#191970" stroke="#191970" points="1225.11,-371.5 1218.16,-379.5 1218.6,-368.91 1225.11,-371.5"/>
<polygon fill="#ffffff" stroke="#000000" points="1040,-301.5 1040,-342.5 1158,-342.5 1158,-301.5 1040,-301.5"/>
<text x="1048" y="-330.3" textLength="101.25" lengthAdjust="spacingAndGlyphs">/home/jenkins/h5cpp</text>
<text x="1048" y="-319.3" textLength="97.5" lengthAdjust="spacingAndGlyphs">/src/h5cpp/node/link</text>
<text x="1074" y="-308.3" textLength="49.5" lengthAdjust="spacingAndGlyphs">_view.hpp</text>
<path fill="none" stroke="#191970" d="M1172.65,-373.75C1158.14,-363.56 1141.78,-352.06 1128.17,-342.5"/>
<polygon fill="#191970" stroke="#191970" points="1174.66,-370.89 1180.83,-379.5 1170.63,-376.61 1174.66,-370.89"/>
<path fill="none" stroke="#191970" d="M1138.46,-377.5C1101.57,-365.9 1057.08,-351.9 1022,-340.87"/>
<polygon fill="#191970" stroke="#191970" points="1139.51,-374.16 1148,-380.5 1137.41,-380.84 1139.51,-374.16"/>
<path fill="none" stroke="#191970" d="M1046.36,-296.71C1005.98,-274.12 953.2,-236.89 929,-187 905.18,-137.9 912.78,-101.57 955,-67 981.49,-45.31 1197.46,-27.2 1304,-19.49"/>
<polygon fill="#191970" stroke="#191970" points="1048.04,-293.64 1055.14,-301.5 1044.68,-299.78 1048.04,-293.64"/>
<path fill="none" stroke="#191970" d="M1167.59,-301.73C1212.84,-288.37 1271.13,-271.14 1312.23,-259"/>
<polygon fill="#191970" stroke="#191970" points="1168.58,-305.09 1158,-304.57 1166.6,-298.38 1168.58,-305.09"/>
<path fill="none" stroke="#191970" d="M1113.01,-292.46C1127.71,-261.48 1150.43,-213.59 1163.28,-186.5"/>
<polygon fill="#191970" stroke="#191970" points="1116.17,-293.97 1108.72,-301.5 1109.85,-290.96 1116.17,-293.97"/>
<path fill="none" stroke="#191970" d="M943.33,-292.95C912.05,-240.32 858.03,-128.91 917,-67 943.23,-39.46 1188.88,-23.97 1304,-18.17"/>
<polygon fill="#191970" stroke="#191970" points="946.32,-291.14 948.52,-301.5 940.33,-294.77 946.32,-291.14"/>
<path fill="none" stroke="#191970" d="M1032.11,-300.87C1126.49,-279.68 1225.05,-264.16 1290.32,-254.8"/>
<polygon fill="#191970" stroke="#191970" points="1032.88,-304.28 1022.1,-303.14 1031.34,-297.46 1032.88,-304.28"/>
<path fill="none" stroke="#191970" d="M760.5,-616.33C705.83,-601.17 635.43,-581.13 630,-577 589.36,-546.07 570,-530.07 570,-479 570,-479 570,-479 570,-165 570,-118.44 569.61,-94.74 607,-67 662.47,-25.85 1135.81,-17.56 1304,-15.91"/>
<polygon fill="#191970" stroke="#191970" points="761.44,-612.96 770.14,-619 759.57,-619.71 761.44,-612.96"/>
<path fill="none" stroke="#191970" d="M792.06,-613.77C773.39,-602.31 750.11,-588 731.38,-576.5"/>
<polygon fill="#191970" stroke="#191970" points="793.89,-610.78 800.58,-619 790.22,-616.75 793.89,-610.78"/>
<path fill="none" stroke="#191970" d="M848.68,-612.29C871.68,-591.57 907.87,-559.91 941,-535 964.05,-517.66 978.22,-522.46 995,-499 1013.19,-473.58 1018.65,-435.76 1020.3,-415"/>
<polygon fill="#191970" stroke="#191970" points="851.03,-614.88 841.27,-619 846.33,-609.69 851.03,-614.88"/>
<path fill="none" stroke="#191970" d="M822.56,-609.03C818.07,-548.42 815.16,-391.82 893,-301 950.88,-233.46 1050.51,-196.89 1114,-179.44"/>
<polygon fill="#191970" stroke="#191970" points="826.05,-608.75 823.39,-619 819.08,-609.32 826.05,-608.75"/>
<path fill="none" stroke="#191970" d="M1462.43,-369.5C1461.19,-333.81 1457.28,-273.18 1445,-223 1426.72,-148.3 1387.18,-64.09 1370.58,-30.5"/>
<polygon fill="#191970" stroke="#191970" points="1465.93,-369.4 1462.73,-379.5 1458.93,-369.61 1465.93,-369.4"/>
<path fill="none" stroke="#191970" d="M1531.87,-388.94C1603.6,-377.43 1719.2,-358.89 1819,-343 1834.17,-340.58 1850.42,-337.9 1866,-335.28"/>
<polygon fill="#191970" stroke="#191970" points="1532.43,-392.39 1522,-390.52 1531.32,-385.48 1532.43,-392.39"/>
<path fill="none" stroke="#191970" d="M1444.46,-371.08C1423.2,-337.91 1389.14,-284.78 1372.62,-259"/>
<polygon fill="#191970" stroke="#191970" points="1447.41,-369.19 1449.86,-379.5 1441.52,-372.97 1447.41,-369.19"/>
<path fill="none" stroke="#191970" d="M257.7,-681.63C252.71,-650.38 246,-600.28 246,-557 246,-557 246,-557 246,-165 246,-114.39 260.64,-93.11 304,-67 347.05,-41.08 1087.5,-21.9 1304,-16.83"/>
<polygon fill="#191970" stroke="#191970" points="261.16,-681.07 259.32,-691.5 254.25,-682.2 261.16,-681.07"/>
<path fill="none" stroke="#191970" d="M551.09,-761.88C526.73,-732.46 494,-683.83 494,-635 494,-635 494,-635 494,-165 494,-118.28 494.27,-94.55 532,-67 563.13,-44.27 1119.38,-23.66 1304,-17.42"/>
<polygon fill="#191970" stroke="#191970" points="553.75,-759.61 557.56,-769.5 548.42,-764.15 553.75,-759.61"/>
<path fill="none" stroke="#191970" d="M645.56,-769.96C769.44,-731.5 1035.16,-638.6 1223,-499 1263.63,-468.8 1278.9,-463.76 1306,-421 1339.99,-367.35 1355.48,-290.99 1360.77,-259"/>
<polygon fill="#191970" stroke="#191970" points="646.59,-773.3 636,-772.9 644.53,-766.61 646.59,-773.3"/>
<polygon fill="#ffffff" stroke="#000000" points="342.5,-697 342.5,-727 465.5,-727 465.5,-697 342.5,-697"/>
<text x="350.5" y="-714.8" textLength="101.25" lengthAdjust="spacingAndGlyphs">/home/jenkins/h5cpp</text>
<text x="350.5" y="-703.8" textLength="106.5" lengthAdjust="spacingAndGlyphs">/src/h5cpp/file/file.hpp</text>
<path fill="none" stroke="#191970" d="M522.42,-765.39C494.47,-752.79 461.36,-737.86 437.27,-727"/>
<polygon fill="#191970" stroke="#191970" points="523.85,-762.2 531.53,-769.5 520.98,-768.58 523.85,-762.2"/>
<path fill="none" stroke="#191970" d="M372.9,-691.11C337.34,-664.47 284,-614.86 284,-557 284,-557 284,-557 284,-165 284,-112.33 250.23,-123.6 425,-67 508.26,-40.04 1111.34,-22.08 1304,-16.99"/>
<polygon fill="#191970" stroke="#191970" points="374.96,-688.28 380.98,-697 370.84,-693.94 374.96,-688.28"/>
<path fill="none" stroke="#191970" d="M401.92,-687.03C399.55,-656.33 396,-602.68 396,-557 396,-557 396,-557 396,-321 396,-269.87 392.1,-208.73 390.12,-181"/>
<polygon fill="#191970" stroke="#191970" points="405.41,-686.75 402.72,-697 398.44,-687.31 405.41,-686.75"/>
<path fill="none" stroke="#191970" d="M475.4,-702.13C545.43,-692.01 655.06,-674.94 749,-655 757.27,-653.24 766,-651.17 774.47,-649.02"/>
<polygon fill="#191970" stroke="#191970" points="475.9,-705.6 465.5,-703.56 474.9,-698.67 475.9,-705.6"/>
<path fill="none" stroke="#191970" d="M1617.44,-291.53C1620.98,-244.18 1626.34,-157.09 1619,-145 1576.68,-75.28 1483.49,-41.74 1422,-26.64"/>
<polygon fill="#191970" stroke="#191970" points="1620.93,-291.8 1616.68,-301.5 1613.95,-291.26 1620.93,-291.8"/>
<path fill="none" stroke="#191970" d="M1598.87,-292.74C1580.57,-259.55 1551.43,-206.69 1537.27,-181"/>
<polygon fill="#191970" stroke="#191970" points="1601.94,-291.05 1603.7,-301.5 1595.81,-294.43 1601.94,-291.05"/>
<path fill="none" stroke="#191970" d="M1546.45,-300.78C1503.72,-287.55 1449.77,-270.86 1411.46,-259"/>
<polygon fill="#191970" stroke="#191970" points="1547.48,-297.44 1556,-303.74 1545.41,-304.12 1547.48,-297.44"/>
<path fill="none" stroke="#191970" d="M2283.99,-631.47C2446.93,-623.64 2842,-592.89 2842,-479 2842,-479 2842,-479 2842,-165 2842,-103.09 2799.82,-91.59 2743,-67 2681.6,-40.43 1677.89,-21.04 1422,-16.51"/>
<polygon fill="#191970" stroke="#191970" points="2284.15,-634.97 2274,-631.94 2283.83,-627.98 2284.15,-634.97"/>
<polygon fill="#ffffff" stroke="#000000" points="2154,-535.5 2154,-576.5 2276,-576.5 2276,-535.5 2154,-535.5"/>
<text x="2162" y="-564.3" textLength="101.25" lengthAdjust="spacingAndGlyphs">/home/jenkins/h5cpp</text>
<text x="2162" y="-553.3" textLength="93.75" lengthAdjust="spacingAndGlyphs">/src/h5cpp/property</text>
<text x="2162" y="-542.3" textLength="105.75" lengthAdjust="spacingAndGlyphs">/dataset_creation.hpp</text>
<path fill="none" stroke="#191970" d="M2215,-603.5C2215,-594.45 2215,-584.75 2215,-576.5"/>
<polygon fill="#191970" stroke="#191970" points="2218.5,-603.5 2215,-613.5 2211.5,-603.5 2218.5,-603.5"/>
<polygon fill="#ffffff" stroke="#000000" points="1692,-301.5 1692,-342.5 1810,-342.5 1810,-301.5 1692,-301.5"/>
<text x="1700" y="-330.3" textLength="101.25" lengthAdjust="spacingAndGlyphs">/home/jenkins/h5cpp</text>
<text x="1700" y="-319.3" textLength="93.75" lengthAdjust="spacingAndGlyphs">/src/h5cpp/property</text>
<text x="1702.5" y="-308.3" textLength="96.75" lengthAdjust="spacingAndGlyphs">/group_creation.hpp</text>
<path fill="none" stroke="#191970" d="M2146.23,-621.18C2046.81,-598.87 1864.52,-543.07 1770,-421 1752.61,-398.54 1749.7,-364.26 1749.86,-342.5"/>
<polygon fill="#191970" stroke="#191970" points="2146.98,-617.76 2156,-623.33 2145.48,-624.6 2146.98,-617.76"/>
<polygon fill="#ffffff" stroke="#000000" points="2870,-457.5 2870,-498.5 2988,-498.5 2988,-457.5 2870,-457.5"/>
<text x="2878" y="-486.3" textLength="101.25" lengthAdjust="spacingAndGlyphs">/home/jenkins/h5cpp</text>
<text x="2878" y="-475.3" textLength="93.75" lengthAdjust="spacingAndGlyphs">/src/h5cpp/property</text>
<text x="2883.5" y="-464.3" textLength="90.75" lengthAdjust="spacingAndGlyphs">/type_creation.hpp</text>
<path fill="none" stroke="#191970" d="M2283.99,-631.04C2439.35,-623.91 2806.95,-604.36 2856,-577 2887.31,-559.54 2909.09,-522.01 2920.28,-498.5"/>
<polygon fill="#191970" stroke="#191970" points="2284.15,-634.53 2274,-631.49 2283.83,-627.54 2284.15,-634.53"/>
<path fill="none" stroke="#191970" d="M2285.98,-552.25C2442.6,-542.03 2804,-506.97 2804,-401 2804,-401 2804,-401 2804,-165 2804,-94.06 2744.65,-91.31 2678,-67 2559.19,-23.67 1662.18,-16.77 1422,-15.69"/>
<polygon fill="#191970" stroke="#191970" points="2286.2,-555.74 2276,-552.88 2285.76,-548.75 2286.2,-555.74"/>
<path fill="none" stroke="#191970" d="M2180.68,-529.32C2168.63,-519.82 2155.08,-509 2143,-499 2073.1,-441.15 1992.88,-368.02 1959.21,-337"/>
<polygon fill="#191970" stroke="#191970" points="2182.85,-526.57 2188.55,-535.5 2178.52,-532.08 2182.85,-526.57"/>
<path fill="none" stroke="#191970" d="M2144,-554.43C1964.76,-548.95 1500.7,-524.83 1395,-421 1350.5,-377.28 1356.13,-293.18 1360.62,-259"/>
<polygon fill="#191970" stroke="#191970" points="2144.11,-550.93 2154,-554.73 2143.9,-557.93 2144.11,-550.93"/>
<polygon fill="#ffffff" stroke="#000000" points="2361,-463 2361,-493 2499,-493 2499,-463 2361,-463"/>
<text x="2369" y="-480.8" textLength="101.25" lengthAdjust="spacingAndGlyphs">/home/jenkins/h5cpp</text>
<text x="2369" y="-469.8" textLength="121.5" lengthAdjust="spacingAndGlyphs">/src/h5cpp/filter/filter.hpp</text>
<path fill="none" stroke="#191970" d="M2280.91,-532.09C2316.03,-519.35 2358.15,-504.07 2388.65,-493"/>
<polygon fill="#191970" stroke="#191970" points="2282.1,-535.38 2271.51,-535.5 2279.71,-528.8 2282.1,-535.38"/>
<polygon fill="#ffffff" stroke="#000000" points="2152,-457.5 2152,-498.5 2278,-498.5 2278,-457.5 2152,-457.5"/>
<text x="2160" y="-486.3" textLength="101.25" lengthAdjust="spacingAndGlyphs">/home/jenkins/h5cpp</text>
<text x="2160" y="-475.3" textLength="93.75" lengthAdjust="spacingAndGlyphs">/src/h5cpp/property</text>
<text x="2160" y="-464.3" textLength="109.5" lengthAdjust="spacingAndGlyphs">/virtual_data_map.hpp</text>
<path fill="none" stroke="#191970" d="M2215,-525.5C2215,-516.45 2215,-506.75 2215,-498.5"/>
<polygon fill="#191970" stroke="#191970" points="2218.5,-525.5 2215,-535.5 2211.5,-525.5 2218.5,-525.5"/>
<path fill="none" stroke="#191970" d="M2405.69,-456.19C2394.83,-445.94 2382.2,-433.28 2372,-421 2311.76,-348.45 2219.65,-114.18 2138,-67 2076.57,-31.5 1592.32,-19.56 1422,-16.44"/>
<polygon fill="#191970" stroke="#191970" points="2408.07,-453.63 2413.02,-463 2403.31,-458.76 2408.07,-453.63"/>
<polygon fill="#ffffff" stroke="#000000" points="2195.5,-73 2195.5,-103 2344.5,-103 2344.5,-73 2195.5,-73"/>
<text x="2203.5" y="-90.8" textLength="101.25" lengthAdjust="spacingAndGlyphs">/home/jenkins/h5cpp</text>
<text x="2203.5" y="-79.8" textLength="132.75" lengthAdjust="spacingAndGlyphs">/src/h5cpp/filter/deflate.hpp</text>
<path fill="none" stroke="#191970" d="M2416.41,-454.3C2394.58,-415.55 2351.29,-335.84 2323,-265 2299.79,-206.89 2281.04,-133.96 2273.54,-103"/>
<polygon fill="#191970" stroke="#191970" points="2419.46,-452.57 2421.34,-463 2413.37,-456.02 2419.46,-452.57"/>
<polygon fill="#ffffff" stroke="#000000" points="2190.5,-379.5 2190.5,-420.5 2325.5,-420.5 2325.5,-379.5 2190.5,-379.5"/>
<text x="2198.5" y="-408.3" textLength="101.25" lengthAdjust="spacingAndGlyphs">/home/jenkins/h5cpp</text>
<text x="2198.5" y="-397.3" textLength="118.5" lengthAdjust="spacingAndGlyphs">/src/h5cpp/filter/external</text>
<text x="2233.5" y="-386.3" textLength="48.75" lengthAdjust="spacingAndGlyphs">_filter.hpp</text>
<path fill="none" stroke="#191970" d="M2387.82,-458.87C2362.16,-447.23 2329.4,-432.38 2303.21,-420.5"/>
<polygon fill="#191970" stroke="#191970" points="2389.26,-455.68 2396.92,-463 2386.37,-462.06 2389.26,-455.68"/>
<polygon fill="#ffffff" stroke="#000000" points="2332,-229 2332,-259 2496,-259 2496,-229 2332,-229"/>
<text x="2340" y="-246.8" textLength="101.25" lengthAdjust="spacingAndGlyphs">/home/jenkins/h5cpp</text>
<text x="2340" y="-235.8" textLength="147.75" lengthAdjust="spacingAndGlyphs">/src/h5cpp/filter/fletcher32.hpp</text>
<path fill="none" stroke="#191970" d="M2428.29,-453.02C2424.97,-404.38 2417.71,-298.26 2415.03,-259"/>
<polygon fill="#191970" stroke="#191970" points="2431.78,-452.78 2428.97,-463 2424.8,-453.26 2431.78,-452.78"/>
<polygon fill="#ffffff" stroke="#000000" points="2400,-151 2400,-181 2534,-181 2534,-151 2400,-151"/>
<text x="2408" y="-168.8" textLength="101.25" lengthAdjust="spacingAndGlyphs">/home/jenkins/h5cpp</text>
<text x="2408" y="-157.8" textLength="117.75" lengthAdjust="spacingAndGlyphs">/src/h5cpp/filter/nbit.hpp</text>
<path fill="none" stroke="#191970" d="M2441.48,-453.93C2459.3,-415.14 2492.82,-335.93 2505,-265 2508.16,-246.6 2510.48,-240.84 2505,-223 2500.19,-207.36 2489.38,-191.87 2480.51,-181"/>
<polygon fill="#191970" stroke="#191970" points="2444.66,-455.41 2437.27,-463 2438.31,-452.46 2444.66,-455.41"/>
<polygon fill="#ffffff" stroke="#000000" points="2437.5,-73 2437.5,-103 2606.5,-103 2606.5,-73 2437.5,-73"/>
<text x="2445.5" y="-90.8" textLength="101.25" lengthAdjust="spacingAndGlyphs">/home/jenkins/h5cpp</text>
<text x="2445.5" y="-79.8" textLength="152.25" lengthAdjust="spacingAndGlyphs">/src/h5cpp/filter/scaleoffset.hpp</text>
<path fill="none" stroke="#191970" d="M2464.63,-457.57C2503.74,-431.61 2562,-382.89 2562,-323 2562,-323 2562,-323 2562,-243 2562,-190.43 2539.9,-130.37 2528.55,-103"/>
<polygon fill="#191970" stroke="#191970" points="2466.53,-460.51 2456.23,-463 2462.73,-454.63 2466.53,-460.51"/>
<polygon fill="#ffffff" stroke="#000000" points="2589.5,-307 2589.5,-337 2738.5,-337 2738.5,-307 2589.5,-307"/>
<text x="2597.5" y="-324.8" textLength="101.25" lengthAdjust="spacingAndGlyphs">/home/jenkins/h5cpp</text>
<text x="2597.5" y="-313.8" textLength="132" lengthAdjust="spacingAndGlyphs">/src/h5cpp/filter/shuffle.hpp</text>
<path fill="none" stroke="#191970" d="M2494.98,-459.81C2521.5,-450.62 2551.61,-437.79 2576,-421 2609.82,-397.73 2639.48,-358.42 2654.18,-337"/>
<polygon fill="#191970" stroke="#191970" points="2496.1,-463.13 2485.5,-463 2493.87,-456.5 2496.1,-463.13"/>
<polygon fill="#ffffff" stroke="#000000" points="2640.5,-229 2640.5,-259 2775.5,-259 2775.5,-229 2640.5,-229"/>
<text x="2648.5" y="-246.8" textLength="101.25" lengthAdjust="spacingAndGlyphs">/home/jenkins/h5cpp</text>
<text x="2648.5" y="-235.8" textLength="118.5" lengthAdjust="spacingAndGlyphs">/src/h5cpp/filter/szip.hpp</text>
<path fill="none" stroke="#191970" d="M2508.89,-470.51C2586.33,-458.34 2699.65,-426.47 2748,-343 2764.15,-315.12 2739.42,-279 2722.23,-259"/>
<polygon fill="#191970" stroke="#191970" points="2509.41,-473.97 2499,-471.99 2508.37,-467.05 2509.41,-473.97"/>
<path fill="none" stroke="#191970" d="M2204.52,-70.89C2196.96,-69.4 2189.33,-68.05 2182,-67 2035.01,-45.91 1584.28,-25.01 1422,-17.98"/>
<polygon fill="#191970" stroke="#191970" points="2205.23,-67.46 2214.39,-72.93 2203.81,-74.32 2205.23,-67.46"/>
<path fill="none" stroke="#191970" d="M2251.36,-369.76C2242.87,-333.71 2226.52,-272.19 2204,-223 2186.96,-185.78 2141.14,-88.01 2106,-67 2047.9,-32.26 1587.51,-19.89 1422,-16.54"/>
<polygon fill="#191970" stroke="#191970" points="2254.77,-368.97 2253.61,-379.5 2247.95,-370.54 2254.77,-368.97"/>
<path fill="none" stroke="#191970" d="M2180.79,-380.88C2126.2,-367.36 2054.03,-349.49 2003.58,-337"/>
<polygon fill="#191970" stroke="#191970" points="2181.63,-377.48 2190.5,-383.29 2179.95,-384.28 2181.63,-377.48"/>
<path fill="none" stroke="#191970" d="M2403.75,-219.77C2399.59,-209.64 2394.86,-197.75 2391,-187 2372.16,-134.47 2398.05,-101.28 2354,-67 2317.1,-38.28 1629.78,-21.23 1422,-16.71"/>
<polygon fill="#191970" stroke="#191970" points="2406.98,-218.42 2407.59,-229 2400.52,-221.11 2406.98,-218.42"/>
<path fill="none" stroke="#191970" d="M2451.34,-142.76C2432.93,-116.22 2402.75,-75.4 2386,-67 2299.9,-23.84 1626.9,-16.85 1422,-15.72"/>
<polygon fill="#191970" stroke="#191970" points="2454.23,-140.78 2457,-151 2448.46,-144.74 2454.23,-140.78"/>
<path fill="none" stroke="#191970" d="M2450.56,-71.1C2441.65,-69.5 2432.64,-68.08 2424,-67 2227.7,-42.44 1615.2,-22.87 1422,-17.18"/>
<polygon fill="#191970" stroke="#191970" points="2451.2,-67.66 2460.55,-72.96 2449.92,-74.54 2451.2,-67.66"/>
<path fill="none" stroke="#191970" d="M2647.92,-298.56C2641.87,-288.58 2635.58,-276.59 2632,-265 2605.92,-180.65 2679.67,-128.16 2616,-67 2572.48,-25.2 1664.34,-17.17 1422,-15.77"/>
<polygon fill="#191970" stroke="#191970" points="2650.88,-296.68 2653.28,-307 2644.97,-300.43 2650.88,-296.68"/>
<path fill="none" stroke="#191970" d="M2707.77,-219.01C2705.9,-179.32 2695.9,-102.72 2648,-67 2598.31,-29.94 1667.59,-18.42 1422,-16.02"/>
<polygon fill="#191970" stroke="#191970" points="2711.26,-218.89 2708.1,-229 2704.27,-219.12 2711.26,-218.89"/>
<path fill="none" stroke="#191970" d="M2197.61,-448.87C2192.43,-439.95 2186.84,-430.1 2182,-421 2152.57,-365.68 2121.79,-297.85 2107,-264.5"/>
<polygon fill="#191970" stroke="#191970" points="2200.63,-447.1 2202.67,-457.5 2194.59,-450.64 2200.63,-447.1"/>
<path fill="none" stroke="#191970" d="M1758.28,-291.69C1761.88,-271.82 1764.42,-245.46 1759,-223 1740.71,-147.26 1742.07,-112.76 1679,-67 1638.99,-37.96 1501.86,-24.41 1422,-18.84"/>
<polygon fill="#191970" stroke="#191970" points="1761.71,-292.38 1756.32,-301.5 1754.84,-291.01 1761.71,-292.38"/>
<path fill="none" stroke="#191970" d="M1681.95,-300.87C1591.98,-280.19 1498.47,-264.79 1435.6,-255.31"/>
<polygon fill="#191970" stroke="#191970" points="1682.74,-297.46 1691.77,-303.15 1681.16,-304.28 1682.74,-297.46"/>
<polygon fill="#ffffff" stroke="#000000" points="1632,-223.5 1632,-264.5 1750,-264.5 1750,-223.5 1632,-223.5"/>
<text x="1640" y="-252.3" textLength="101.25" lengthAdjust="spacingAndGlyphs">/home/jenkins/h5cpp</text>
<text x="1640" y="-241.3" textLength="93.75" lengthAdjust="spacingAndGlyphs">/src/h5cpp/property</text>
<text x="1648.5" y="-230.3" textLength="84" lengthAdjust="spacingAndGlyphs">/file_creation.hpp</text>
<path fill="none" stroke="#191970" d="M1729.13,-293.57C1721.73,-283.95 1713.61,-273.39 1706.77,-264.5"/>
<polygon fill="#191970" stroke="#191970" points="1731.91,-291.44 1735.23,-301.5 1726.36,-295.71 1731.91,-291.44"/>
<path fill="none" stroke="#191970" d="M1693.64,-213.52C1695.28,-173.77 1691.62,-104.87 1652,-67 1619.81,-36.23 1496.77,-23.47 1422,-18.47"/>
<polygon fill="#191970" stroke="#191970" points="1697.14,-213.71 1693.09,-223.5 1690.15,-213.32 1697.14,-213.71"/>
<path fill="none" stroke="#191970" d="M1622.04,-237.44C1572.75,-232.92 1504.82,-227.02 1445,-223 1078.36,-198.38 639.53,-177.41 465.5,-169.44"/>
<polygon fill="#191970" stroke="#191970" points="1622.36,-233.96 1632,-238.36 1621.72,-240.93 1622.36,-233.96"/>
<path fill="none" stroke="#191970" d="M2921.22,-447.78C2913.88,-416.62 2904,-366.58 2904,-323 2904,-323 2904,-323 2904,-165 2904,-116.5 2896.71,-93.36 2856,-67 2794.87,-27.42 1691.48,-17.65 1422,-15.85"/>
<polygon fill="#191970" stroke="#191970" points="2924.62,-446.96 2923.57,-457.5 2917.82,-448.6 2924.62,-446.96"/>
<path fill="none" stroke="#191970" d="M1804.8,-621.17C1916.27,-598.41 2124,-546.88 2124,-479 2124,-479 2124,-479 2124,-399 2124,-318.04 2204.32,-296.79 2171,-223 2127.84,-127.43 2090.54,-107.94 1994,-67 1942.15,-45.01 1568.75,-25.21 1422,-18.2"/>
<polygon fill="#191970" stroke="#191970" points="1805.49,-624.6 1795,-623.15 1804.11,-617.74 1805.49,-624.6"/>
<polygon fill="#ffffff" stroke="#000000" points="1616,-535.5 1616,-576.5 1744,-576.5 1744,-535.5 1616,-535.5"/>
<text x="1624" y="-564.3" textLength="101.25" lengthAdjust="spacingAndGlyphs">/home/jenkins/h5cpp</text>
<text x="1624" y="-553.3" textLength="93.75" lengthAdjust="spacingAndGlyphs">/src/h5cpp/property</text>
<text x="1624" y="-542.3" textLength="111" lengthAdjust="spacingAndGlyphs">/attribute_creation.hpp</text>
<path fill="none" stroke="#191970" d="M1715.45,-605.38C1708.58,-595.8 1701.06,-585.33 1694.72,-576.5"/>
<polygon fill="#191970" stroke="#191970" points="1718.29,-603.34 1721.28,-613.5 1712.61,-607.42 1718.29,-603.34"/>
<polygon fill="#ffffff" stroke="#000000" points="1779,-379.5 1779,-420.5 1897,-420.5 1897,-379.5 1779,-379.5"/>
<text x="1787" y="-408.3" textLength="101.25" lengthAdjust="spacingAndGlyphs">/home/jenkins/h5cpp</text>
<text x="1787" y="-397.3" textLength="93.75" lengthAdjust="spacingAndGlyphs">/src/h5cpp/property</text>
<text x="1794" y="-386.3" textLength="87" lengthAdjust="spacingAndGlyphs">/link_creation.hpp</text>
<path fill="none" stroke="#191970" d="M1748.93,-604.33C1769.94,-556.13 1810.97,-462.01 1829.06,-420.5"/>
<polygon fill="#191970" stroke="#191970" points="1752.14,-605.73 1744.94,-613.5 1745.72,-602.93 1752.14,-605.73"/>
<path fill="none" stroke="#191970" d="M1753.62,-538.31C1842.5,-512.45 1987.35,-454.74 2046,-343 2054.67,-326.47 2050.87,-319.02 2046,-301 2041.17,-283.12 2032.48,-281.95 2025,-265 1987.76,-180.64 2034.95,-124.67 1963,-67 1921.39,-33.66 1564.99,-20.75 1422,-16.88"/>
<polygon fill="#191970" stroke="#191970" points="1754.58,-541.67 1744,-541.05 1752.66,-534.94 1754.58,-541.67"/>
<path fill="none" stroke="#191970" d="M1606.05,-548.41C1457.81,-533.2 1126.47,-499.19 985.5,-484.72"/>
<polygon fill="#191970" stroke="#191970" points="1606.41,-544.93 1616,-549.43 1605.69,-551.89 1606.41,-544.93"/>
<path fill="none" stroke="#191970" d="M1906.81,-388.31C1955.27,-378.52 2014.05,-362.95 2029,-343 2040.19,-328.06 2036.26,-318.2 2029,-301 2020.07,-279.86 2003.84,-284.66 1992,-265 1944.7,-186.45 2004.89,-125.16 1934,-67 1895.02,-35.03 1559.98,-21.4 1422,-17.11"/>
<polygon fill="#191970" stroke="#191970" points="1907.49,-391.75 1897,-390.25 1906.13,-384.88 1907.49,-391.75"/>
<path fill="none" stroke="#191970" d="M1873.62,-373.54C1890.03,-361.35 1908.89,-347.34 1922.81,-337"/>
<polygon fill="#191970" stroke="#191970" points="1875.71,-376.35 1865.6,-379.5 1871.54,-370.73 1875.71,-376.35"/>
<path fill="none" stroke="#191970" d="M1835.81,-369.55C1833.49,-349.31 1828.73,-322.59 1819,-301 1801.02,-261.13 1795.66,-246.86 1759,-223 1734.44,-207.02 1665.91,-191.16 1610,-180.24"/>
<polygon fill="#191970" stroke="#191970" points="1839.29,-369.2 1836.81,-379.5 1832.32,-369.9 1839.29,-369.2"/>
<path fill="none" stroke="#191970" d="M1769.09,-392.27C1709.13,-384.2 1620.57,-369 1547,-343 1485.33,-321.2 1419.04,-280.85 1385.39,-259"/>
<polygon fill="#191970" stroke="#191970" points="1769.54,-388.8 1779,-393.58 1768.63,-395.74 1769.54,-388.8"/>
</g></svg>
</body></html>
